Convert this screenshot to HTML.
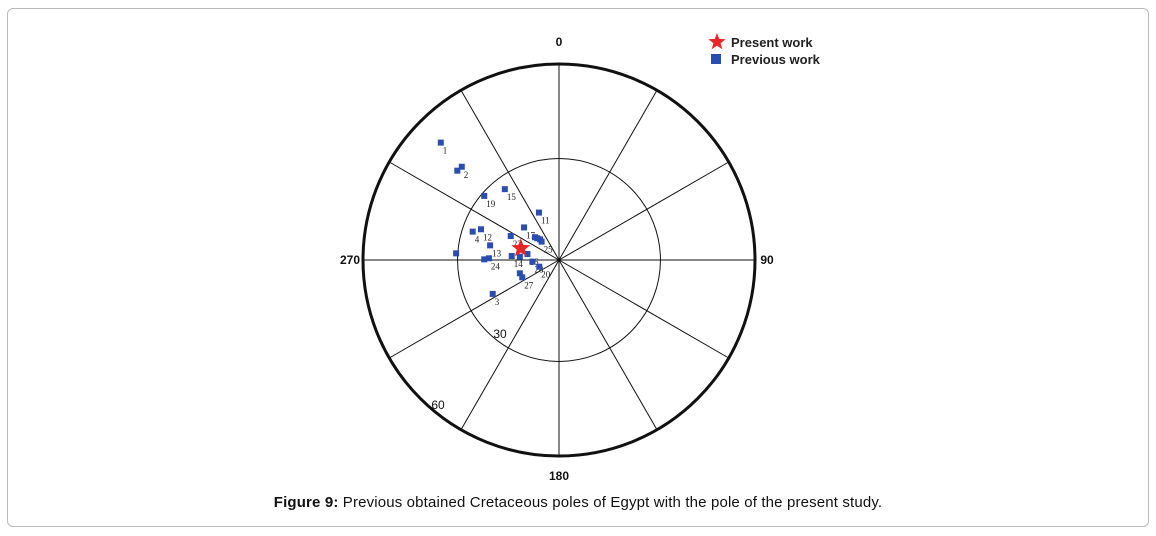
<!DOCTYPE html>
<html><head><meta charset="utf-8"><style>
html,body{margin:0;padding:0;background:#fff;}
#wrap{position:relative;width:1156px;height:536px;}
#frame{position:absolute;left:7px;top:8px;width:1142px;height:519px;border:1px solid #bbb;border-radius:6px;box-sizing:border-box;}
#cap{position:absolute;left:0;width:1156px;top:494px;text-align:center;font:15px "Liberation Sans",sans-serif;color:#111;letter-spacing:0.15px;}
svg{position:absolute;left:0;top:0;}
</style></head><body>
<div id="wrap">
<div id="frame"></div>
<svg id="chart" width="1156" height="536"></svg>
<div id="cap"><b>Figure 9:</b> Previous obtained Cretaceous poles of Egypt with the pole of the present study.</div>
</div>
<script>
// Pole longitudes (deg) and latitudes (deg), Lambert equal-area north polar plot
const poleLon = [314.8,311.3,313.8,322.6,310.6,337.1,313,313.4,315,317.5,316.6,296.4,288.2,291.5,282,273.7,270.5,271.4,274.8,274.8,280.7,266.4,251.2,251.2,244.8,242.9];
const poleLat = [39.7,49.6,49.8,63.7,60.9,74.9,76,80.3,81,81.8,82.6,74.2,63.2,65.3,69.3,59.5,68,69.4,76.1,78.5,80.6,82.2,83.9,77.9,78.1,68.1];
const poleLabel = ["1","","2","15","19","11","17","","","","25","22","4","12","13","","","24","14","","16","28","20","","27","3"];
const presentLon = [287];
const presentLat = [78.3];
const ringColat = [30,60];
const spokeAz = [0,30,60,90,120,150,180,210,240,270,300,330];

const NS='http://www.w3.org/2000/svg';
const svg=document.getElementById('chart');
const cx=559, cy=260, R=196;
function rad(colat){return R*Math.sin(colat*Math.PI/360)/Math.sin(30*Math.PI/180);}
function xy(lon,lat){const r=rad(90-lat),a=lon*Math.PI/180;return [cx+r*Math.sin(a),cy-r*Math.cos(a)];}
function mk(tag,attrs,parent){const e=document.createElementNS(NS,tag);for(const k in attrs)e.setAttribute(k,attrs[k]);(parent||svg).appendChild(e);return e;}

spokeAz.forEach(a=>{
  const t=a*Math.PI/180;
  const l=mk('line',{x1:cx,y1:cy,x2:cx+R*Math.sin(t),y2:cy-R*Math.cos(t),stroke:'#111','stroke-width':1});
  
  
});
ringColat.forEach((c,i)=>{
  const e=mk('circle',{cx:cx,cy:cy,r:rad(c),fill:'none',stroke:'#111','stroke-width':i==ringColat.length-1?3:1});
  
  
});
const axl=[['0',559,46],['90',767,264],['270',350,264],['180',559,480]];
axl.forEach(a=>{
  const t=mk('text',{x:a[1],y:a[2],'text-anchor':'middle','font-family':'Liberation Sans, sans-serif','font-size':12,'font-weight':'bold',fill:'#111'});
  t.textContent=a[0];
  
  
});
[['30',500,338],['60',438,409]].forEach(a=>{
  const t=mk('text',{x:a[1],y:a[2],'text-anchor':'middle','font-family':'Liberation Sans, sans-serif','font-size':12,fill:'#111'});
  t.textContent=a[0];
  
  
});
poleLon.forEach((lon,i)=>{
  const p=xy(lon,poleLat[i]);
  const s=mk('rect',{x:p[0]-3,y:p[1]-3,width:6,height:6,fill:'#2a4db0'});
  
  
  if(poleLabel[i]){
    const t=mk('text',{x:p[0]+2,y:p[1]+11,'font-family':'Liberation Serif, serif','font-size':9,fill:'#222'});
    t.textContent=poleLabel[i];
    
    
  }
});
function starPts(x,y,ro,ri){let s=[];for(let k=0;k<10;k++){const r=k%2?ri:ro,a=Math.PI*k/5;s.push((x+r*Math.sin(a)).toFixed(1)+','+(y-r*Math.cos(a)).toFixed(1));}return s.join(' ');}
presentLon.forEach((lon,i)=>{
  const p=xy(lon,presentLat[i]);
  const s=mk('polygon',{points:starPts(p[0],p[1],10,4.2),fill:'#e8262a'});
  
  
});
// legend
const lg=mk('g',{});


const ls=mk('polygon',{points:starPts(717,42,9,3.8),fill:'#e8262a'},lg);


const t1=mk('text',{x:731,y:47,'font-family':'Liberation Sans, sans-serif','font-size':13,'font-weight':'bold',fill:'#222'},lg);
t1.textContent='Present work';


const lr=mk('rect',{x:711,y:54,width:10,height:10,fill:'#2a4db0'},lg);


const t2=mk('text',{x:731,y:64,'font-family':'Liberation Sans, sans-serif','font-size':13,'font-weight':'bold',fill:'#222'},lg);
t2.textContent='Previous work';


</script>
</body></html>
